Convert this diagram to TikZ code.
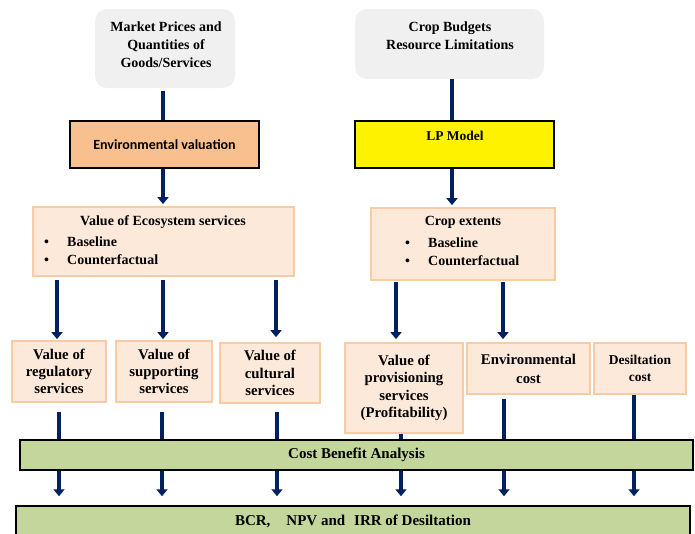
\documentclass[tikz,border=0pt]{standalone}
\usepackage{fontspec}
\setmainfont{Liberation Serif}
\newfontfamily\calfont{Carlito}
\usetikzlibrary{arrows.meta}
\definecolor{navy}{HTML}{002060}
\definecolor{grayfill}{HTML}{F0F0F0}
\definecolor{orangefill}{HTML}{F9C08F}
\definecolor{peach}{HTML}{FDE9D9}
\definecolor{peachline}{HTML}{F9CBA3}
\definecolor{greenfill}{HTML}{C3D69B}
\pgfdeclarelayer{bg}
\pgfsetlayers{bg,main}
\begin{document}
\begin{tikzpicture}[x=1pt,y=-1pt,
  font=\bfseries\fontsize{14}{18}\selectfont,
  graybox/.style={fill=grayfill, draw=none, rounded corners=12pt, inner sep=0pt},
  blackbox/.style={draw=black, line width=1.8pt, inner sep=0pt},
  peachbox/.style={fill=peach, draw=peachline, line width=1.8pt, inner sep=0pt, align=center,
     font=\bfseries\fontsize{14.8}{17.3}\selectfont},
  greenbox/.style={fill=greenfill, draw=black, line width=1.5pt, inner sep=0pt,
     font=\bfseries\fontsize{15}{18}\selectfont},
  txt/.style={align=center, inner sep=0pt},
  conn/.style={draw=navy, line width=4.5pt},
  arr/.style={conn, -{Triangle[width=11pt,length=7pt]}}
]
\useasboundingbox (0,0) rectangle (695,533);

% x positions of connectors
\coordinate (xa) at (163,0);
\coordinate (xb) at (452,0);
\coordinate (x1) at (57,0);
\coordinate (x2) at (163,0);
\coordinate (x3) at (276,0);
\coordinate (x4) at (396,0);
\coordinate (x5) at (503,0);
\coordinate (y1) at (59,0);
\coordinate (y2) at (162,0);
\coordinate (y3) at (277,0);
\coordinate (y4) at (401,0);
\coordinate (y5) at (504,0);
\coordinate (y6) at (634,0);

% top boxes
\node[graybox, minimum width=140pt, minimum height=79pt] (mkt) at (165,48.5) {};
\node[txt] (mktt) at (166,45) {Market Prices and\\Quantities of\\Goods/Services};
\node[graybox, minimum width=189pt, minimum height=70pt] (cb) at (449.5,44) {};
\node[txt] (cbt) at (450,35.5) {Crop Budgets\\Resource Limitations};

% model boxes
\node[blackbox, fill=orangefill, minimum width=189pt, minimum height=47pt, font=\calfont\bfseries\fontsize{14}{16}\selectfont] (env) at (164.5,144.5) {Environmental valuation};
\node[blackbox, fill=yellow, minimum width=199pt, minimum height=47pt] (lp) at (454.5,144.5) {};
\node[txt, font=\bfseries\fontsize{13.5}{16}\selectfont] (lpt) at (455,136) {LP Model};

% ecosystem / crop extents
\node[peachbox, minimum width=261pt, minimum height=69pt] (ves) at (163.5,241.5) {};
\node[txt] (vest) at (163,222) {Value of Ecosystem services};
\node[txt, anchor=west, align=left] (vesl) at (44,250.5) {\makebox[23pt][l]{\textbullet}Baseline\\\makebox[23pt][l]{\textbullet}Counterfactual};
\node[peachbox, minimum width=184pt, minimum height=72pt] (ce) at (463,244) {};
\node[txt] (cet) at (463,222) {Crop extents};
\node[txt, anchor=west, align=left] (cel) at (405,251.5) {\makebox[23pt][l]{\textbullet}Baseline\\\makebox[23pt][l]{\textbullet}Counterfactual};

% service boxes
\node[peachbox, minimum width=94pt, minimum height=61pt] (reg) at (59,371.5) {Value of\\regulatory\\services};
\node[peachbox, minimum width=96pt, minimum height=61pt] (sup) at (164,371.5) {Value of\\supporting\\services};
\node[peachbox, minimum width=100pt, minimum height=60pt] (cult) at (270,373) {Value of\\cultural\\services};
\node[peachbox, minimum width=118pt, minimum height=90pt] (prov) at (404,388) {Value of\\provisioning\\services\\(Profitability)};
\node[peachbox, minimum width=123pt, minimum height=51pt, font=\bfseries\fontsize{14.8}{19}\selectfont] (envc) at (528.5,368.5) {Environmental\\cost};
\node[peachbox, minimum width=92pt, minimum height=51pt, font=\bfseries\fontsize{13.5}{17}\selectfont] (des) at (640,368.5) {Desiltation\\cost};

% analysis boxes
\node[greenbox, minimum width=673pt, minimum height=30pt] (cba) at (356.5,455) {Cost Benefit Analysis};
\node[greenbox, minimum width=674pt, minimum height=30pt] (bcr) at (353,521) {BCR,\hspace{16pt}NPV and\hspace{9pt}IRR of Desiltation};

% connectors
\draw[conn, shorten <=3pt] (mkt.south -| xa) -- (env.north -| xa);
\draw[arr, shorten >=2pt] (env.south -| xa) -- (ves.north -| xa);
\draw[conn] (cb.south -| xb) -- (lp.north -| xb);
\draw[arr, shorten >=2pt] (lp.south -| xb) -- (ce.north -| xb);

\draw[arr, shorten <=3pt, shorten >=1pt] (ves.south -| x1) -- (reg.north -| x1);
\draw[arr, shorten <=3pt, shorten >=1pt] (ves.south -| x2) -- (sup.north -| x2);
\draw[arr, shorten <=3pt, shorten >=5pt] (ves.south -| x3) -- (cult.north -| x3);
\draw[arr, shorten <=1pt, shorten >=3pt] (ce.south -| x4) -- (prov.north -| x4);
\draw[arr, shorten <=1pt, shorten >=3pt] (ce.south -| x5) -- (envc.north -| x5);

\begin{pgfonlayer}{bg}
\draw[arr, shorten <=9pt, shorten >=9pt] (reg.south -| y1) -- (bcr.north -| y1);
\draw[arr, shorten <=9pt, shorten >=9pt] (sup.south -| y2) -- (bcr.north -| y2);
\draw[arr, shorten <=8pt, shorten >=9pt] (cult.south -| y3) -- (bcr.north -| y3);
\draw[arr, shorten <=0pt, shorten >=9pt] (prov.south -| y4) -- (bcr.north -| y4);
\draw[arr, shorten <=4pt, shorten >=9pt] (envc.south -| y5) -- (bcr.north -| y5);
\draw[arr, shorten <=0pt, shorten >=9pt] (des.south -| y6) -- (bcr.north -| y6);
\end{pgfonlayer}
\end{tikzpicture}
\end{document}
